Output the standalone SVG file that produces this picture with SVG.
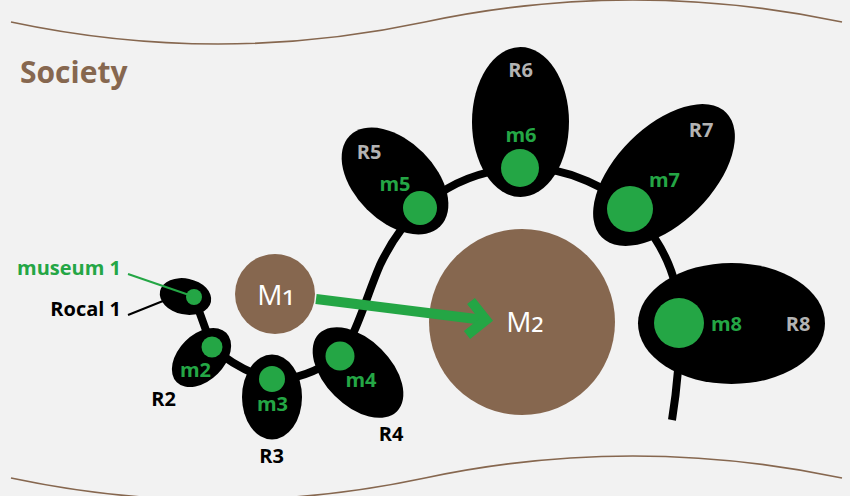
<svg xmlns="http://www.w3.org/2000/svg" width="850" height="496" viewBox="0 0 850 496">
<style>
.bg{fill:#f2f2f2}
.wave{fill:none;stroke:#86674f;stroke-width:1.6}
.title{font-family:"Open Sans","Liberation Sans",sans-serif;font-weight:bold;font-size:30px;fill:#86674f}
.region{fill:#000}
.dot{fill:#24a645}
.mlab{font-family:"Open Sans","Liberation Sans",sans-serif;font-weight:bold;font-size:20px;fill:#24a645;text-anchor:middle}
.rlab{font-family:"Open Sans","Liberation Sans",sans-serif;font-weight:bold;font-size:20px;fill:#000;text-anchor:middle}
.rlab.grey{fill:#b3b3b3}
.big{fill:#86674f}
.Mlab{font-family:"Open Sans","DejaVu Sans",sans-serif;font-size:28px;fill:#fff;text-anchor:middle}
.sub{font-size:36px}
.chain{fill:none;stroke:#000;stroke-width:8;stroke-linecap:butt;stroke-linejoin:round}
.arrow{fill:none;stroke:#24a645;stroke-width:10;stroke-linejoin:miter}
.lead-g{stroke:#24a645;stroke-width:2;fill:none}
.lead-k{stroke:#000;stroke-width:2;fill:none}
.side{font-family:"Open Sans","Liberation Sans",sans-serif;font-weight:bold;font-size:20px;text-anchor:end}
</style>
<rect class="bg" x="0" y="0" width="850" height="496"/>
<path class="wave" d="M11,22 Q218,66 425,22 T842,22"/>
<path class="wave" d="M11,478 Q218,522 425,478 T842,478"/>
<text class="title" x="20" y="83">Society</text>

<g id="M1">
  <circle class="big" cx="275" cy="294" r="40"/>
  <text class="Mlab" x="276" y="305">M<tspan class="sub" dy="-4">₁</tspan></text>
</g>
<g id="M2">
  <circle class="big" cx="522" cy="322" r="93"/>
  <text class="Mlab" x="525" y="332">M<tspan class="sub" dy="-4">₂</tspan></text>
</g>

<g id="connectors">
  <path class="chain" d="M194,297 L212,347 Q238,370 272,380 Q305,380 338,357 C355,340 365,300 380,265 C392,240 405,222 421,208 A155,155 0 0 1 680,322 Q680,370 672,420"/>
  <line class="arrow" x1="316" y1="299" x2="484" y2="320"/>
  <polyline class="arrow" points="471,301 486,320 467,335"/>
</g>

<g id="R1">
  <ellipse class="region" cx="185.5" cy="296.5" rx="26" ry="18" transform="rotate(12 185.5 296.5)"/>
  <circle class="dot" cx="194" cy="297" r="8"/>
  <line class="lead-g" x1="128" y1="274" x2="192" y2="296"/>
  <line class="lead-k" x1="128" y1="315" x2="163" y2="301"/>
  <text class="side" x="121" y="275" fill="#24a645">museum 1</text>
  <text class="side" x="121" y="316" fill="#000">Rocal 1</text>
</g>
<g id="R2">
  <ellipse class="region" cx="201.5" cy="357.5" rx="35" ry="23" transform="rotate(-45 201.5 357.5)"/>
  <circle class="dot" cx="212" cy="347" r="10.5"/>
  <text class="mlab" x="195.5" y="377">m2</text>
  <text class="rlab" x="163.5" y="406">R2</text>
</g>
<g id="R3">
  <ellipse class="region" cx="272" cy="397" rx="30" ry="42.5"/>
  <circle class="dot" cx="272" cy="379" r="13"/>
  <text class="mlab" x="272.5" y="411">m3</text>
  <text class="rlab" x="271.5" y="463">R3</text>
</g>
<g id="R4">
  <ellipse class="region" cx="358" cy="372.5" rx="55" ry="33" transform="rotate(45 358 372.5)"/>
  <circle class="dot" cx="340" cy="356" r="14.5"/>
  <text class="mlab" x="361" y="387">m4</text>
  <text class="rlab" x="391" y="441">R4</text>
</g>
<g id="R5">
  <ellipse class="region" cx="395" cy="181" rx="64" ry="40" transform="rotate(45 395 181)"/>
  <circle class="dot" cx="420" cy="208" r="17"/>
  <text class="mlab" x="395" y="191">m5</text>
  <text class="rlab grey" x="369" y="159">R5</text>
</g>
<g id="R6">
  <ellipse class="region" cx="520.5" cy="122" rx="48.5" ry="75"/>
  <circle class="dot" cx="520" cy="168" r="19"/>
  <text class="mlab" x="521" y="142">m6</text>
  <text class="rlab grey" x="520.5" y="77">R6</text>
</g>
<g id="R7">
  <ellipse class="region" cx="664" cy="175" rx="88" ry="48" transform="rotate(-45 664 175)"/>
  <circle class="dot" cx="630" cy="209" r="23"/>
  <text class="mlab" x="664.5" y="187">m7</text>
  <text class="rlab grey" x="701" y="137">R7</text>
</g>
<g id="R8">
  <ellipse class="region" cx="731.5" cy="323.5" rx="93.5" ry="60.5"/>
  <circle class="dot" cx="679" cy="323" r="25"/>
  <text class="mlab" x="726.5" y="331">m8</text>
  <text class="rlab grey" x="798" y="331">R8</text>
</g>
</svg>
